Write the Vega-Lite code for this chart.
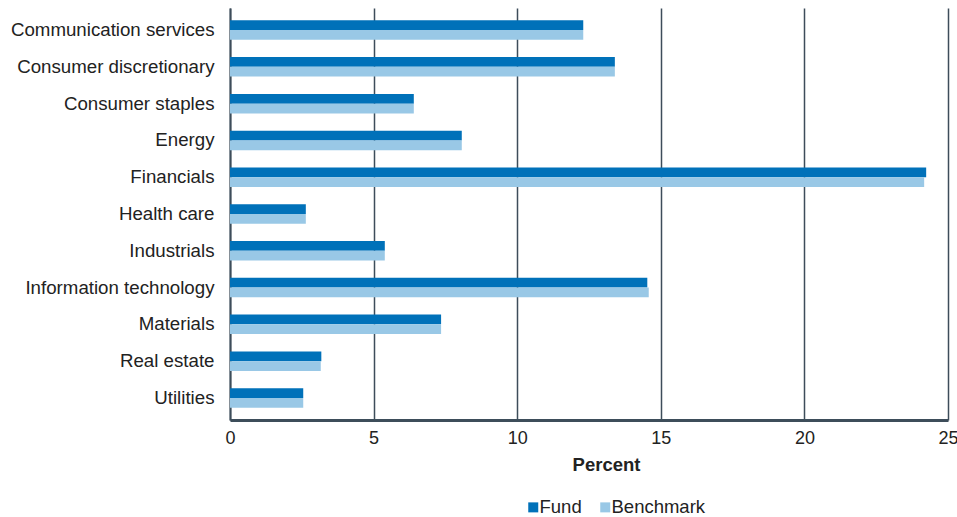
{
  "$schema": "https://vega.github.io/schema/vega-lite/v6.json",
  "autosize": {"type": "none"},
  "padding": {"left": 230, "top": 8, "right": 9, "bottom": 97},
  "width": 718,
  "height": 412,
  "background": "white",
  "config": {
    "font": "Liberation Sans",
    "view": {"stroke": null}
  },
  "data": {
    "values": [
      {"Sector": "Communication services", "Series": "Fund", "Value": 12.3},
      {"Sector": "Communication services", "Series": "Benchmark", "Value": 12.3},
      {"Sector": "Consumer discretionary", "Series": "Fund", "Value": 13.4},
      {"Sector": "Consumer discretionary", "Series": "Benchmark", "Value": 13.4},
      {"Sector": "Consumer staples", "Series": "Fund", "Value": 6.4},
      {"Sector": "Consumer staples", "Series": "Benchmark", "Value": 6.4},
      {"Sector": "Energy", "Series": "Fund", "Value": 8.07},
      {"Sector": "Energy", "Series": "Benchmark", "Value": 8.07},
      {"Sector": "Financials", "Series": "Fund", "Value": 24.24},
      {"Sector": "Financials", "Series": "Benchmark", "Value": 24.17},
      {"Sector": "Health care", "Series": "Fund", "Value": 2.64},
      {"Sector": "Health care", "Series": "Benchmark", "Value": 2.64},
      {"Sector": "Industrials", "Series": "Fund", "Value": 5.39},
      {"Sector": "Industrials", "Series": "Benchmark", "Value": 5.39},
      {"Sector": "Information technology", "Series": "Fund", "Value": 14.53},
      {"Sector": "Information technology", "Series": "Benchmark", "Value": 14.58},
      {"Sector": "Materials", "Series": "Fund", "Value": 7.35},
      {"Sector": "Materials", "Series": "Benchmark", "Value": 7.35},
      {"Sector": "Real estate", "Series": "Fund", "Value": 3.18},
      {"Sector": "Real estate", "Series": "Benchmark", "Value": 3.16},
      {"Sector": "Utilities", "Series": "Fund", "Value": 2.55},
      {"Sector": "Utilities", "Series": "Benchmark", "Value": 2.55}
    ]
  },
  "mark": {"type": "bar"},
  "encoding": {
    "y": {
      "field": "Sector",
      "type": "nominal",
      "sort": null,
      "scale": {"paddingInner": 0.47, "paddingOuter": 0.335},
      "axis": {
        "title": null,
        "labelFontSize": 18.7,
        "labelColor": "#222222",
        "labelPadding": 16,
        "ticks": false,
        "domain": true,
        "domainColor": "#3d4d5a",
        "domainWidth": 2,
        "grid": false,
        "labelLimit": 300
      }
    },
    "yOffset": {
      "field": "Series",
      "type": "nominal",
      "sort": ["Fund", "Benchmark"],
      "scale": {"paddingInner": 0, "paddingOuter": 0}
    },
    "x": {
      "field": "Value",
      "type": "quantitative",
      "scale": {"domain": [0, 25], "nice": false},
      "axis": {
        "title": "Percent",
        "titleFontSize": 18.5,
        "titleFontWeight": "bold",
        "titleColor": "#222222",
        "titlePadding": 8,
        "titleX": 376,
        "titleAlign": "center",
        "values": [0, 5, 10, 15, 20, 25],
        "labelFontSize": 18,
        "labelColor": "#222222",
        "labelPadding": 9,
        "labelFlush": false,
        "labelOverlap": false,
        "ticks": false,
        "grid": true,
        "gridColor": "#3d4d5a",
        "gridWidth": 1.5,
        "gridOpacity": 1,
        "domain": true,
        "domainColor": "#3d4d5a",
        "domainWidth": 3
      }
    },
    "color": {
      "field": "Series",
      "type": "nominal",
      "sort": ["Fund", "Benchmark"],
      "scale": {"domain": ["Fund", "Benchmark"], "range": ["#0071b9", "#99c8e6"]},
      "legend": {
        "title": null,
        "orient": "none",
        "legendX": 294,
        "legendY": 490,
        "direction": "horizontal",
        "columns": 2,
        "columnPadding": 14,
        "symbolType": "square",
        "symbolSize": 100,
        "symbolStrokeWidth": 0,
        "labelFontSize": 18.5,
        "labelColor": "#222222",
        "labelOffset": -3
      }
    }
  }
}
